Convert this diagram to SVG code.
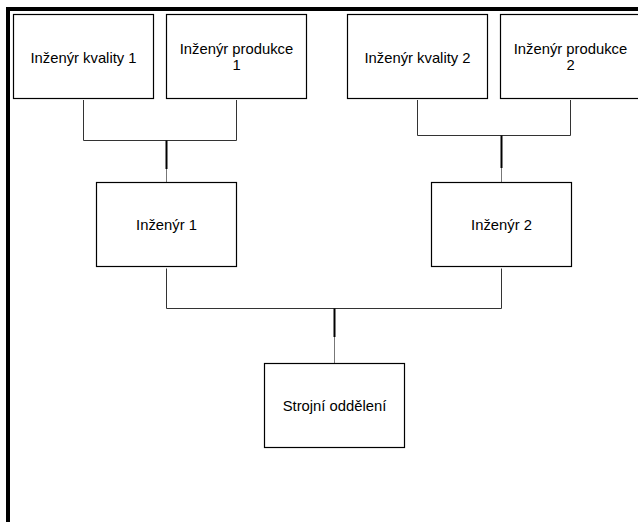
<svg xmlns="http://www.w3.org/2000/svg" width="638" height="522" viewBox="0 0 638 522">
<style>
.box{fill:#fff;stroke:#000;stroke-width:1.2}
.t{font-family:"Liberation Sans",Arial,sans-serif;font-size:14.8px;fill:#000;text-anchor:middle}
.c{fill:none;stroke:#333;stroke-width:1}
.v{stroke:#777;stroke-width:1}
.k{stroke:#000;stroke-width:2}
</style>
<rect x="0" y="0" width="638" height="522" fill="#fff"/>
<path d="M8,522 V9 H638" fill="none" stroke="#000" stroke-width="4"/>
<g id="connectors">
<path class="c" d="M83.5,100 V140.5 H236.5 V100"/>
<line class="k" x1="166.5" y1="140.5" x2="166.5" y2="169"/>
<line class="v" x1="166.5" y1="169" x2="166.5" y2="182.5"/>
<path class="c" d="M417.5,100 V135.5 H570.5 V100"/>
<line class="k" x1="501.5" y1="135.5" x2="501.5" y2="168"/>
<line class="v" x1="501.5" y1="168" x2="501.5" y2="182.5"/>
<path class="c" d="M166.5,268.5 V308.5 H501.5 V268.5"/>
<line class="k" x1="334.5" y1="308.5" x2="334.5" y2="337"/>
<line class="v" x1="334.5" y1="337" x2="334.5" y2="363.5"/>
</g>
<g id="n1"><rect class="box" x="13.5" y="14.5" width="140" height="84"/><text class="t" x="83.5" y="62.5">Inženýr kvality 1</text></g>
<g id="n2"><rect class="box" x="166.5" y="14.5" width="140" height="84"/><text class="t" x="236.5" y="54">Inženýr produkce</text><text class="t" x="236.5" y="69.5">1</text></g>
<g id="n3"><rect class="box" x="347.5" y="14.5" width="140" height="84"/><text class="t" x="417.5" y="62.5">Inženýr kvality 2</text></g>
<g id="n4"><rect class="box" x="500.5" y="14.5" width="140" height="84"/><text class="t" x="570.5" y="54">Inženýr produkce</text><text class="t" x="570.5" y="69.5">2</text></g>
<g id="n5"><rect class="box" x="96.5" y="182.5" width="140" height="84"/><text class="t" x="166.5" y="230">Inženýr 1</text></g>
<g id="n6"><rect class="box" x="431.5" y="182.5" width="140" height="84"/><text class="t" x="501.5" y="230">Inženýr 2</text></g>
<g id="n7"><rect class="box" x="264.5" y="363.5" width="140" height="84"/><text class="t" x="334.5" y="411">Strojní oddělení</text></g>
</svg>
